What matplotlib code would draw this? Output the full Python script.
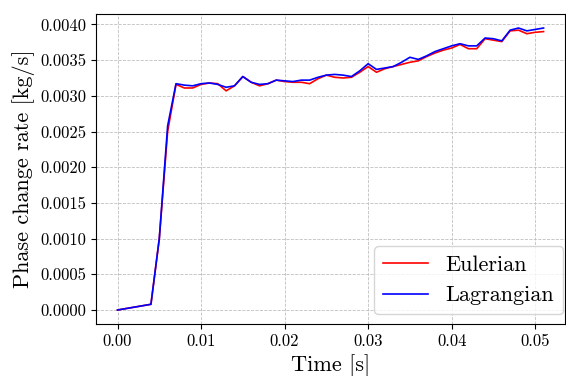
import matplotlib
matplotlib.use("Agg")
import matplotlib.pyplot as plt

plt.rcParams['font.family'] = 'cmr10'
plt.rcParams['mathtext.fontset'] = 'cm'
plt.rcParams['axes.unicode_minus'] = False

# time [s]
time = [0.000, 0.004, 0.005, 0.006, 0.007, 0.008, 0.009, 0.010, 0.011, 0.012,
        0.013, 0.014, 0.015, 0.016, 0.017, 0.018, 0.019, 0.020, 0.021, 0.022,
        0.023, 0.024, 0.025, 0.026, 0.027, 0.028, 0.029, 0.030, 0.031, 0.032,
        0.033, 0.034, 0.035, 0.036, 0.037, 0.038, 0.039, 0.040, 0.041, 0.042,
        0.043, 0.044, 0.045, 0.046, 0.047, 0.048, 0.049, 0.050, 0.051]

# phase change rate [kg/s]
eulerian = [0.00000, 0.00008, 0.00100, 0.00250, 0.00316, 0.00311, 0.00311, 0.00316,
            0.00318, 0.00317, 0.00307, 0.00314, 0.00327, 0.00319, 0.00314, 0.00317,
            0.00322, 0.00320, 0.00319, 0.00319, 0.00317, 0.00324, 0.00329, 0.00326,
            0.00325, 0.00326, 0.00333, 0.00341, 0.00333, 0.00338, 0.00341, 0.00344,
            0.00347, 0.00349, 0.00355, 0.00360, 0.00364, 0.00367, 0.00372, 0.00366,
            0.00366, 0.00380, 0.00378, 0.00376, 0.00391, 0.00392, 0.00387, 0.00389,
            0.00390]
lagrangian = [0.00000, 0.00008, 0.00100, 0.00258, 0.00317, 0.00315, 0.00314, 0.00317,
              0.00318, 0.00316, 0.00312, 0.00314, 0.00327, 0.00319, 0.00316, 0.00317,
              0.00322, 0.00321, 0.00320, 0.00322, 0.00322, 0.00326, 0.00329, 0.00330,
              0.00329, 0.00327, 0.00335, 0.00345, 0.00337, 0.00339, 0.00341, 0.00347,
              0.00354, 0.00351, 0.00356, 0.00362, 0.00366, 0.00370, 0.00373, 0.00370,
              0.00370, 0.00381, 0.00380, 0.00377, 0.00392, 0.00395, 0.00391, 0.00393,
              0.00395]

fig, ax = plt.subplots(figsize=(5.66, 3.76), dpi=100)
fig.subplots_adjust(left=0.170, right=0.998, top=0.963, bottom=0.138)

ax.plot(time, eulerian, color='red', lw=1.2, label='Eulerian')
ax.plot(time, lagrangian, color='blue', lw=1.2, label='Lagrangian')

ax.set_xlabel('Time [s]', fontsize=16)
ax.set_ylabel('Phase change rate [kg/s]', fontsize=16)
ax.set_xticks([0.00, 0.01, 0.02, 0.03, 0.04, 0.05])
ax.set_xticklabels(['0.00', '0.01', '0.02', '0.03', '0.04', '0.05'])
yt = [i * 0.0005 for i in range(9)]
ax.set_yticks(yt)
ax.set_yticklabels(['%.4f' % v for v in yt])
ax.tick_params(labelsize=12)
ax.grid(True, linestyle='--', linewidth=0.6, color='0.75')
ax.legend(loc='lower right', fontsize=16, bbox_to_anchor=(0.996, 0.032),
          borderaxespad=0)

fig.savefig('out.png', dpi=100)
